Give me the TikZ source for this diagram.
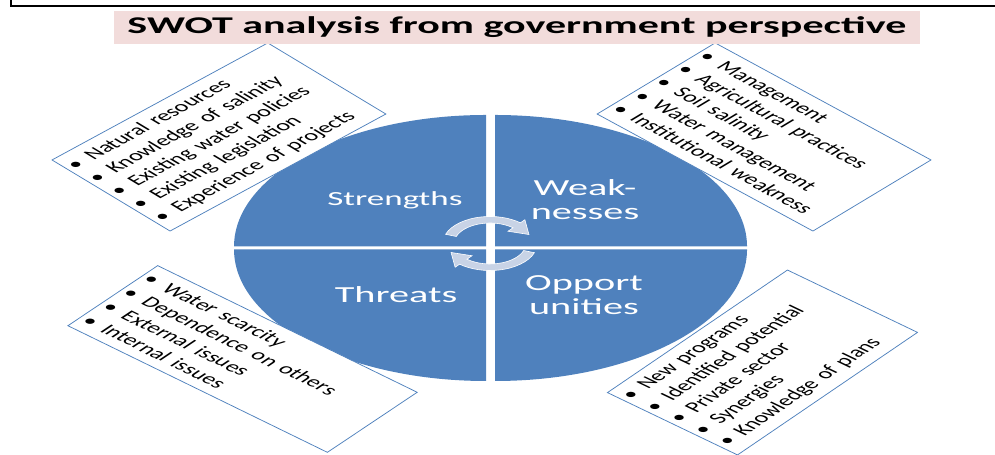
\documentclass[tikz,border=0pt]{standalone}
\usepackage{fontspec}
\setmainfont{Carlito}
\usepackage{tikz}

\definecolor{swotblue}{HTML}{4F81BD}
\definecolor{titlepink}{HTML}{F2DCDB}
\definecolor{cyclefill}{HTML}{C8D3E6}

\tikzset{
  listbox/.style={draw=swotblue, line width=0.75bp, fill=white, inner sep=3bp,
    align=left, font=\fontsize{15bp}{18bp}\selectfont},
  quadlabel/.style={text=white, align=center, inner sep=0pt,
    font=\fontsize{23bp}{24bp}\selectfont},
  cyclearrow/.style={fill=cyclefill, draw=white, line width=0.6bp}
}
\newcommand{\itm}{\makebox[14bp][l]{\textbullet}}

\begin{document}
\begin{tikzpicture}[x=1bp, y=1bp]
  % Constants
  \pgfmathsetmacro\s{1.75}
  \pgfmathsetmacro\rx{144}
  \pgfmathsetmacro\ry{131.5}
  \pgfmathsetmacro\gx{2.57}
  \pgfmathsetmacro\gy{1.5}
  % Boundary
  \path[use as bounding box] (0,0) rectangle (995,455);
  % Frame
  \draw[line width=2bp] (11,455) -- (11,448.5) -- (995,448.5);
  % Slide, stretched sideways
  \begin{scope}[xscale=\s, transform shape]
    % Quadrants
    \begin{scope}[shift={(280.3,207)}]
      \foreach \a/\dx/\dy in {0/1/1, 90/-1/1, 180/-1/-1, 270/1/-1}
        \fill[swotblue, shift={({\dx*\gx},{\dy*\gy})}] (0,0)
          -- ({\rx*cos(\a)},{\ry*sin(\a)})
          arc[start angle=\a, end angle=\a+90, x radius=\rx, y radius=\ry] -- cycle;
    \end{scope}
    % Cycle arrows
    \begin{scope}[shift={(280,211.5)}]
      \foreach \r in {0,180}
        \filldraw[cyclearrow, rotate=\r] (160:27) arc[start angle=160, end angle=50, radius=27]
          -- (50:31) -- (22:24) -- (50:16) -- (50:20.5)
          arc[start angle=50, end angle=160, radius=20.5] -- cycle;
    \end{scope}
    % Quadrant labels
    \node[quadlabel, font=\fontsize{20bp}{24bp}\selectfont] (str) at (225.7,255) {Strengths};
    \node[quadlabel] (wea) at (334.3,255) {Weak-\\nesses};
    \node[quadlabel] (thr) at (226.3,160) {Threats};
    \node[quadlabel] (opp) at (333.7,160) {Opport\\unities};
    % Lists
    \node[listbox, rotate=43.5, text width=164bp, minimum height=98bp] (strlist) at (125.1,318)
      {\itm Natural resources\\ \itm Knowledge of salinity\\ \itm Existing water policies\\
       \itm Existing legislation\\ \itm Experience of projects};
    \node[listbox, rotate=-43.5, text width=164bp, minimum height=98bp] (wealist) at (436.6,318)
      {\itm Management\\ \itm Agricultural practices\\ \itm Soil salinity\\
       \itm Water management\\ \itm Institutional weakness};
    \node[listbox, rotate=-40.5, text width=189bp, minimum height=79bp] (thrlist) at (138.6,96)
      {\itm Water scarcity\\ \itm Dependence on others\\ \itm External issues\\
       \itm Internal issues};
    \node[listbox, rotate=50, text width=154bp, minimum height=97bp] (opplist) at (435.7,92.5)
      {\itm New programs\\ \itm Identified potential\\ \itm Private sector\\
       \itm Synergies\\ \itm Knowledge of plans};
    % Title
    \node[fill=titlepink, minimum width=460.6bp, minimum height=33bp, inner sep=0pt,
      font=\bfseries\fontsize{24bp}{28bp}\selectfont] (title) at (295.4,427.5)
      {SWOT analysis from government perspective};
  \end{scope}
\end{tikzpicture}
\end{document}
